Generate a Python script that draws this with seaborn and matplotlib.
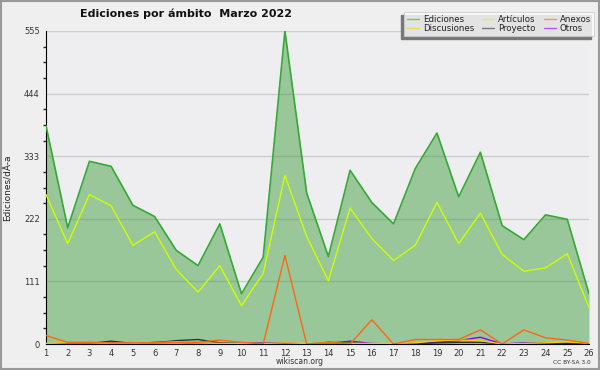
import pandas as pd
import matplotlib.pyplot as plt
import seaborn as sns
from matplotlib.lines import Line2D
from matplotlib.patches import Rectangle
from matplotlib.ticker import MultipleLocator

dias = list(range(1, 27))
ediciones = [387, 206, 324, 315, 246, 226, 166, 139, 213, 89, 154, 555, 268,
             155, 308, 251, 213, 311, 374, 261, 340, 210, 185, 229, 221, 89]
articulos = [265, 178, 265, 245, 175, 199, 132, 92, 139, 68, 125, 299, 191,
             112, 241, 187, 148, 175, 251, 178, 232, 159, 129, 135, 160, 65]
anexos = [15, 3, 3, 2, 2, 2, 3, 3, 7, 3, 0, 157, 0,
          2, 0, 43, 0, 8, 8, 8, 25, 0, 25, 11, 7, 1]
discusiones = [1, 2, 2, 1, 1, 2, 4, 2, 1, 1, 1, 2, 1,
               2, 1, 1, 1, 2, 6, 7, 6, 0, 1, 2, 4, 1]
proyecto = [0, 1, 1, 5, 1, 2, 6, 8, 2, 1, 1, 1, 0,
            3, 2, 0, 0, 1, 2, 3, 3, 0, 1, 1, 1, 0]
otros = [0, 0, 0, 3, 0, 3, 3, 2, 1, 1, 2, 2, 0,
         1, 5, 1, 0, 1, 3, 6, 12, 0, 2, 1, 1, 0]

series = {"Ediciones": ediciones, "Artículos": articulos, "Anexos": anexos,
          "Discusiones": discusiones, "Proyecto": proyecto, "Otros": otros}
colores = {"Ediciones": "#33aa33", "Artículos": "#ccff00", "Anexos": "#ff6611",
           "Discusiones": "#ffcc00", "Proyecto": "#333333", "Otros": "#8800ff"}

df = pd.DataFrame([(s, d, v) for s, vals in series.items() for d, v in zip(dias, vals)],
                  columns=["serie", "dia", "valor"])

sns.set_style("white")
plt.rcParams["font.family"] = ["DejaVu Sans"]

fig = plt.figure(figsize=(6, 3.7), dpi=100, facecolor="#efefef")
ax = fig.add_axes([46/600, 1-344/370, 543/600, 313/370])
ax.set_facecolor("#eeeef0")

ax.fill_between(dias, ediciones, 0, color="#339933", alpha=0.45, lw=0, zorder=1)
orden = ["Ediciones", "Artículos", "Otros", "Proyecto", "Discusiones", "Anexos"]
for s in orden:
    sns.lineplot(data=df[df["serie"] == s], x="dia", y="valor", color=colores[s],
                 lw=1.2 if s == "Ediciones" else 1.0, ax=ax, zorder=3)

ax.set_xlim(1, 26)
ax.set_ylim(0, 555)
ax.set_xticks(dias)
ax.set_yticks([0, 111, 222, 333, 444, 555])
ax.yaxis.set_minor_locator(MultipleLocator(27.75))
ax.grid(axis="y", color="#cccccc", lw=1, zorder=0)
ax.set_axisbelow(True)
for sp in ["top", "right"]:
    ax.spines[sp].set_visible(False)
ax.spines["left"].set_color("black")
ax.spines["bottom"].set_color("black")
ax.spines["bottom"].set_zorder(5)
ax.tick_params(axis="both", labelsize=6, colors="black", labelcolor="#333333",
               direction="out", length=4, width=1, pad=0.5)
ax.tick_params(axis="x", length=3)
ax.tick_params(axis="y", which="minor", left=True, length=2.5, width=1)
ax.set_xlabel("")
ax.set_ylabel("Ediciones/dÃ-a", fontsize=6.5, color="#222222")
ax.yaxis.set_label_coords(-0.062, 0.5)

fig.text(186/600, 1-14/370, "Ediciones por ámbito  Marzo 2022", fontsize=8,
         fontweight="bold", ha="center", va="center", color="#111111")
fig.text(0.5, 1-362/370, "wikiscan.org", fontsize=5.5, ha="center", va="center",
         color="#333333")
fig.text(0.985, 1-362/370, "CC BY-SA 3.0", fontsize=4.2, ha="right", va="center",
         color="#333333")

etiquetas = ["Ediciones", "Discusiones", "Artículos", "Proyecto", "Anexos", "Otros"]
handles = [Line2D([], [], color=colores[e], lw=1, alpha=0.6) for e in etiquetas]
leg = fig.legend(handles, etiquetas, loc="upper left", bbox_to_anchor=(404/600, 1-12/370),
                 ncol=3, fontsize=6.2, frameon=True, fancybox=False, borderaxespad=0,
                 handlelength=1.4, handletextpad=0.5, columnspacing=0.9,
                 labelspacing=0.05, borderpad=0.3, edgecolor="#cccccc")
leg.get_frame().set_facecolor("white")
leg.get_frame().set_linewidth(0.8)
for t in leg.get_texts():
    t.set_color("#222222")
leg.set_zorder(10)

fig.canvas.draw()
bb = leg.get_window_extent().transformed(fig.transFigure.inverted())
fig.patches.append(Rectangle((bb.x0 - 3/600, bb.y0 - 3/370), bb.width, bb.height,
                             transform=fig.transFigure, color="#777777", zorder=9))
fig.patches.append(Rectangle((0.002, 0.003), 0.996, 0.994, transform=fig.transFigure,
                             fill=False, edgecolor="#999999", lw=1.5))

fig.savefig("out.png", dpi=100, facecolor=fig.get_facecolor())
